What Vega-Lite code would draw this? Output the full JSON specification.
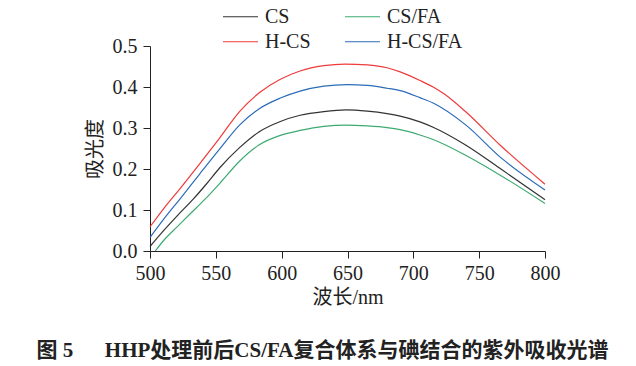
{
  "$schema": "https://vega.github.io/schema/vega-lite/v6.json",
  "autosize": {"type": "none"},
  "padding": {"left": 150, "top": 46, "right": 91, "bottom": 115},
  "width": 395,
  "height": 205,
  "background": "white",
  "title": {
    "text": "图 5\u2003\u2002HHP处理前后CS/FA复合体系与碘结合的紫外吸收光谱",
    "orient": "bottom",
    "anchor": "middle",
    "frame": "bounds",
    "font": "Liberation Serif, Noto Sans CJK SC",
    "fontSize": 21,
    "fontWeight": "bold",
    "color": "#222222",
    "offset": 33
  },
  "data": {
    "values": [
      {"wl": 500, "A": 0.059, "s": "H-CS"},
      {"wl": 511, "A": 0.106, "s": "H-CS"},
      {"wl": 523, "A": 0.153, "s": "H-CS"},
      {"wl": 538, "A": 0.214, "s": "H-CS"},
      {"wl": 553, "A": 0.276, "s": "H-CS"},
      {"wl": 568, "A": 0.340, "s": "H-CS"},
      {"wl": 583, "A": 0.386, "s": "H-CS"},
      {"wl": 599, "A": 0.419, "s": "H-CS"},
      {"wl": 614, "A": 0.439, "s": "H-CS"},
      {"wl": 632, "A": 0.452, "s": "H-CS"},
      {"wl": 648, "A": 0.456, "s": "H-CS"},
      {"wl": 665, "A": 0.454, "s": "H-CS"},
      {"wl": 680, "A": 0.447, "s": "H-CS"},
      {"wl": 690, "A": 0.437, "s": "H-CS"},
      {"wl": 705, "A": 0.416, "s": "H-CS"},
      {"wl": 715, "A": 0.400, "s": "H-CS"},
      {"wl": 723, "A": 0.384, "s": "H-CS"},
      {"wl": 740, "A": 0.339, "s": "H-CS"},
      {"wl": 766, "A": 0.258, "s": "H-CS"},
      {"wl": 800, "A": 0.163, "s": "H-CS"},

      {"wl": 500, "A": 0.033, "s": "H-CS/FA"},
      {"wl": 511, "A": 0.080, "s": "H-CS/FA"},
      {"wl": 523, "A": 0.128, "s": "H-CS/FA"},
      {"wl": 538, "A": 0.189, "s": "H-CS/FA"},
      {"wl": 553, "A": 0.249, "s": "H-CS/FA"},
      {"wl": 568, "A": 0.307, "s": "H-CS/FA"},
      {"wl": 583, "A": 0.347, "s": "H-CS/FA"},
      {"wl": 599, "A": 0.373, "s": "H-CS/FA"},
      {"wl": 614, "A": 0.390, "s": "H-CS/FA"},
      {"wl": 632, "A": 0.402, "s": "H-CS/FA"},
      {"wl": 650, "A": 0.406, "s": "H-CS/FA"},
      {"wl": 665, "A": 0.404, "s": "H-CS/FA"},
      {"wl": 680, "A": 0.397, "s": "H-CS/FA"},
      {"wl": 690, "A": 0.391, "s": "H-CS/FA"},
      {"wl": 705, "A": 0.374, "s": "H-CS/FA"},
      {"wl": 715, "A": 0.361, "s": "H-CS/FA"},
      {"wl": 740, "A": 0.307, "s": "H-CS/FA"},
      {"wl": 766, "A": 0.229, "s": "H-CS/FA"},
      {"wl": 800, "A": 0.149, "s": "H-CS/FA"},

      {"wl": 500, "A": 0.011, "s": "CS"},
      {"wl": 511, "A": 0.052, "s": "CS"},
      {"wl": 521, "A": 0.087, "s": "CS"},
      {"wl": 533, "A": 0.127, "s": "CS"},
      {"wl": 543, "A": 0.164, "s": "CS"},
      {"wl": 553, "A": 0.203, "s": "CS"},
      {"wl": 568, "A": 0.252, "s": "CS"},
      {"wl": 583, "A": 0.291, "s": "CS"},
      {"wl": 599, "A": 0.316, "s": "CS"},
      {"wl": 614, "A": 0.331, "s": "CS"},
      {"wl": 632, "A": 0.340, "s": "CS"},
      {"wl": 649, "A": 0.344, "s": "CS"},
      {"wl": 665, "A": 0.341, "s": "CS"},
      {"wl": 680, "A": 0.335, "s": "CS"},
      {"wl": 690, "A": 0.329, "s": "CS"},
      {"wl": 705, "A": 0.315, "s": "CS"},
      {"wl": 715, "A": 0.302, "s": "CS"},
      {"wl": 740, "A": 0.258, "s": "CS"},
      {"wl": 766, "A": 0.201, "s": "CS"},
      {"wl": 800, "A": 0.125, "s": "CS"},

      {"wl": 504, "A": 0.000, "s": "CS/FA"},
      {"wl": 511, "A": 0.028, "s": "CS/FA"},
      {"wl": 521, "A": 0.060, "s": "CS/FA"},
      {"wl": 530, "A": 0.089, "s": "CS/FA"},
      {"wl": 542, "A": 0.127, "s": "CS/FA"},
      {"wl": 553, "A": 0.165, "s": "CS/FA"},
      {"wl": 568, "A": 0.219, "s": "CS/FA"},
      {"wl": 583, "A": 0.259, "s": "CS/FA"},
      {"wl": 599, "A": 0.282, "s": "CS/FA"},
      {"wl": 614, "A": 0.294, "s": "CS/FA"},
      {"wl": 632, "A": 0.304, "s": "CS/FA"},
      {"wl": 649, "A": 0.307, "s": "CS/FA"},
      {"wl": 665, "A": 0.305, "s": "CS/FA"},
      {"wl": 680, "A": 0.301, "s": "CS/FA"},
      {"wl": 690, "A": 0.296, "s": "CS/FA"},
      {"wl": 705, "A": 0.283, "s": "CS/FA"},
      {"wl": 715, "A": 0.272, "s": "CS/FA"},
      {"wl": 740, "A": 0.233, "s": "CS/FA"},
      {"wl": 766, "A": 0.185, "s": "CS/FA"},
      {"wl": 800, "A": 0.116, "s": "CS/FA"}
    ]
  },
  "encoding": {
    "x": {
      "field": "wl", "type": "quantitative",
      "scale": {"domain": [500, 800], "nice": false},
      "axis": {
        "title": "波长/nm",
        "values": [500, 550, 600, 650, 700, 750, 800],
        "tickSize": 7, "labelPadding": 5, "titlePadding": 4,
        "grid": false, "labelFlush": false
      }
    },
    "y": {
      "field": "A", "type": "quantitative",
      "scale": {"domain": [0, 0.5], "nice": false, "zero": false},
      "axis": {
        "title": "吸光度",
        "values": [0, 0.1, 0.2, 0.3, 0.4, 0.5],
        "format": ".1f",
        "tickSize": 7, "labelPadding": 6, "titlePadding": 7,
        "grid": false
      }
    }
  },
  "layer": [
    {
      "transform": [{"filter": {"field": "s", "oneOf": ["CS", "CS/FA"]}}],
      "mark": {"type": "line", "interpolate": "monotone", "strokeWidth": 1.2},
      "encoding": {
        "color": {
          "field": "s", "type": "nominal",
          "scale": {"domain": ["CS", "CS/FA"], "range": ["#333333", "#3daa72"]},
          "legend": {
            "title": null,
            "orient": "none",
            "legendX": 77,
            "legendY": -43,
            "direction": "horizontal",
            "columnPadding": 52,
            "padding": 0,
            "symbolType": "M-1.4,0H1.4",
            "symbolSize": 625,
            "symbolStrokeWidth": 1.2,
            "symbolFillColor": "transparent",
            "labelOffset": 11,
            "labelFont": "Liberation Serif",
            "labelFontSize": 20,
            "labelColor": "#222222"
          }
        }
      }
    },
    {
      "transform": [{"filter": {"field": "s", "oneOf": ["H-CS", "H-CS/FA"]}}],
      "mark": {"type": "line", "interpolate": "monotone", "strokeWidth": 1.2},
      "encoding": {
        "color": {
          "field": "s", "type": "nominal",
          "scale": {"domain": ["H-CS", "H-CS/FA"], "range": ["#ee3b3b", "#2b6cb8"]},
          "legend": {
            "title": null,
            "orient": "none",
            "legendX": 77,
            "legendY": -18,
            "direction": "horizontal",
            "columnPadding": 31,
            "padding": 0,
            "symbolType": "M-1.4,0H1.4",
            "symbolSize": 625,
            "symbolStrokeWidth": 1.2,
            "symbolFillColor": "transparent",
            "labelOffset": 11,
            "labelFont": "Liberation Serif",
            "labelFontSize": 20,
            "labelColor": "#222222"
          }
        }
      }
    }
  ],
  "resolve": {"scale": {"color": "independent"}, "legend": {"color": "independent"}},
  "config": {
    "view": {"stroke": null},
    "axis": {
      "domainColor": "#222222",
      "tickColor": "#222222",
      "domainWidth": 1,
      "tickWidth": 1,
      "labelFont": "Liberation Serif",
      "labelFontSize": 20,
      "labelColor": "#222222",
      "titleFont": "Liberation Serif, Noto Sans CJK SC",
      "titleFontSize": 20,
      "titleFontWeight": "normal",
      "titleColor": "#222222"
    }
  }
}
